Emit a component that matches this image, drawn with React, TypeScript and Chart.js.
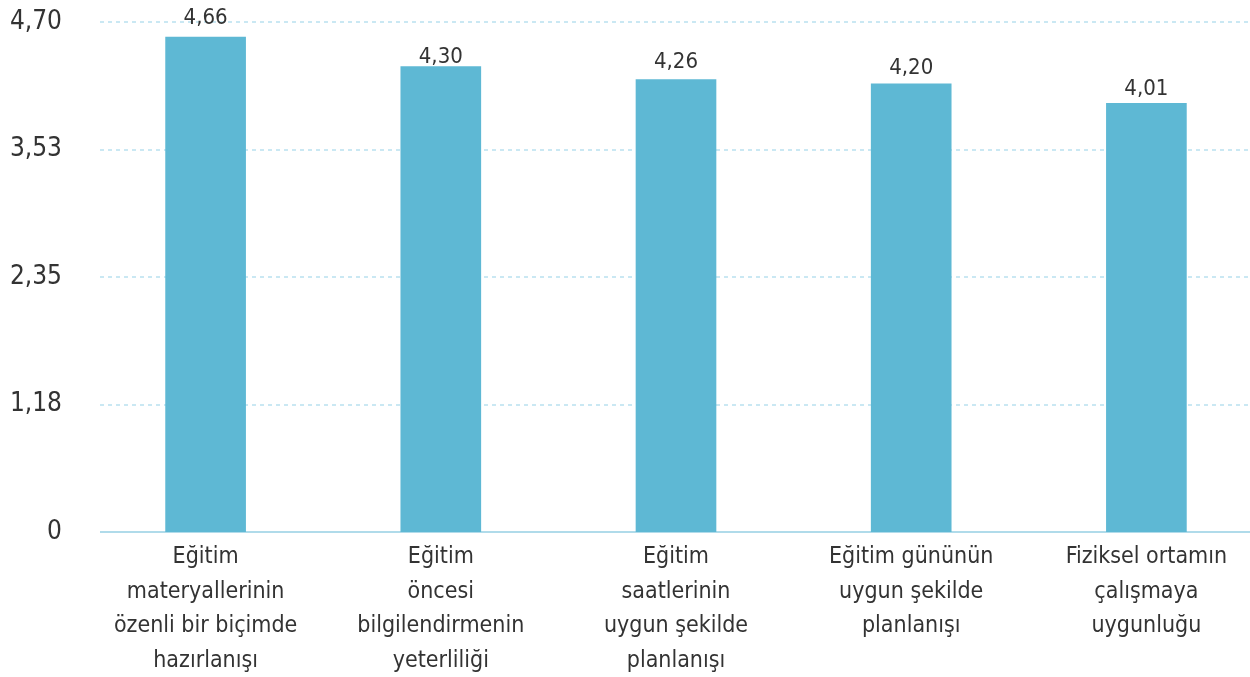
import React, { useEffect, useRef } from "react";
import { Chart, registerables } from "chart.js";

Chart.register(...registerables);

const categories: string[][] = [
  ["Eğitim", "materyallerinin", "özenli bir biçimde", "hazırlanışı"],
  ["Eğitim", "öncesi", "bilgilendirmenin", "yeterliliği"],
  ["Eğitim", "saatlerinin", "uygun şekilde", "planlanışı"],
  ["Eğitim gününün", "uygun şekilde", "planlanışı"],
  ["Fiziksel ortamın", "çalışmaya", "uygunluğu"],
];
// bar heights as drawn in the picture
const barValues: number[] = [4.56, 4.29, 4.17, 4.13, 3.95];
// values printed above the bars
const labelValues: number[] = [4.66, 4.3, 4.26, 4.2, 4.01];
const tickValues: number[] = [0, 1.175, 2.35, 3.525, 4.7];
const tickLabels: string[] = ["0", "1,18", "2,35", "3,53", "4,70"];

const FONT = "'Liberation Sans Narrow', 'DejaVu Sans Condensed', 'Roboto', sans-serif";
const TEXT = "#333333";
const BAR = "#5EB8D4";
const GRID = "#B9E1EF";
const AXIS = "#B0DBEA";

const valueLabelPlugin = {
  id: "valueLabels",
  afterDatasetsDraw(chart: any) {
    const ctx = chart.ctx;
    const meta = chart.getDatasetMeta(0);
    const y = chart.scales.y;
    ctx.save();
    ctx.font = `22px ${FONT}`;
    ctx.fillStyle = TEXT;
    ctx.textAlign = "center";
    ctx.textBaseline = "alphabetic";
    meta.data.forEach((el: any, i: number) => {
      ctx.fillText(
        labelValues[i].toFixed(2).replace(".", ","),
        el.x,
        y.getPixelForValue(labelValues[i]) - 2
      );
    });
    ctx.restore();
  },
};

const gridPlugin = {
  id: "customGrid",
  beforeDatasetsDraw(chart: any) {
    const ctx = chart.ctx;
    const { left, right } = chart.chartArea;
    const y = chart.scales.y;
    const x0 = left + 12;
    ctx.save();
    tickValues.forEach((v) => {
      const py = Math.round(y.getPixelForValue(v));
      ctx.beginPath();
      if (v === 0) {
        ctx.setLineDash([]);
        ctx.strokeStyle = AXIS;
        ctx.lineWidth = 2;
      } else {
        ctx.setLineDash([4, 4]);
        ctx.strokeStyle = GRID;
        ctx.lineWidth = 1.5;
      }
      ctx.moveTo(x0, py);
      ctx.lineTo(right, py);
      ctx.stroke();
    });
    ctx.restore();
  },
};

export default function App() {
  const ref = useRef<HTMLCanvasElement | null>(null);
  useEffect(() => {
    if (!ref.current) return;
    const chart = new Chart(ref.current, {
      type: "bar",
      data: {
        labels: categories,
        datasets: [
          {
            data: barValues,
            backgroundColor: BAR,
            barThickness: 80,
          },
        ],
      },
      options: {
        animation: false,
        responsive: false,
        maintainAspectRatio: false,
        layout: { padding: { top: 22, right: 0, left: 0, bottom: 0 } },
        plugins: {
          legend: { display: false },
          tooltip: { enabled: false },
        },
        scales: {
          x: {
            grid: { display: false, drawTicks: false },
            border: { display: false },
            ticks: {
              color: TEXT,
              font: { family: FONT, size: 23, lineHeight: 1.5 },
              padding: 8,
              maxRotation: 0,
              autoSkip: false,
            },
            afterFit(scale: any) {
              scale.height = 145;
              scale.paddingLeft = 0;
              scale.paddingRight = 0;
            },
          },
          y: {
            min: 0,
            max: 4.7,
            afterBuildTicks(scale: any) {
              scale.ticks = tickValues.map((v) => ({ value: v }));
            },
            grid: { display: false, drawTicks: false },
            border: { display: false },
            ticks: {
              color: TEXT,
              font: { family: FONT, size: 26 },
              padding: 26,
              callback: (_v: any, i: number) => tickLabels[i],
            },
            afterFit(scale: any) {
              scale.width = 88;
              scale.paddingTop = 0;
              scale.paddingBottom = 0;
            },
          },
        },
      } as any,
      plugins: [gridPlugin, valueLabelPlugin],
    });
    return () => chart.destroy();
  }, []);
  return (
    <div
      style={{
        position: "absolute",
        left: 0,
        top: 0,
        width: 1250,
        height: 677,
        overflow: "hidden",
        background: "#ffffff",
      }}
    >
      <canvas ref={ref} width={1264} height={677} style={{ width: 1264, height: 677, display: "block" }} />
    </div>
  );
}
